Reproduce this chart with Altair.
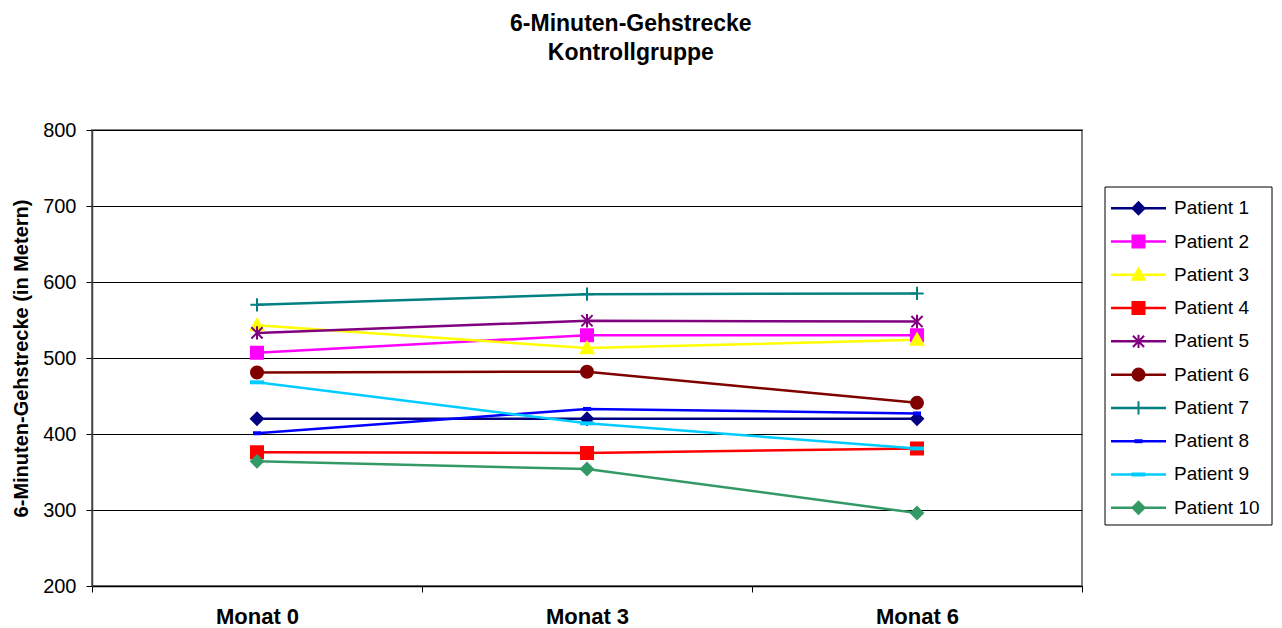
import altair as alt
import pandas as pd

months = ["Monat 0", "Monat 3", "Monat 6"]
patients = ["Patient 1", "Patient 2", "Patient 3", "Patient 4", "Patient 5",
            "Patient 6", "Patient 7", "Patient 8", "Patient 9", "Patient 10"]

p1 = [420, 420, 420]
p2 = [507, 530, 530]
p3 = [543, 513, 524]
p4 = [376, 375, 381]
p5 = [533, 549, 548]
p6 = [481, 482, 441]
p7 = [570, 584, 585]
p8 = [401, 433, 427]
p9 = [468, 414, 381]
p10 = [364, 354, 296]

colors = ["#000080", "#FF00FF", "#FFFF00", "#FF0000", "#800080",
          "#800000", "#008080", "#0000FF", "#00CCFF", "#339966"]

shapes = [
    "M0,-0.86L0.86,0L0,0.86L-0.86,0Z",                       # diamond
    "M-0.86,-0.86H0.86V0.86H-0.86Z",                          # square
    "M0,-0.9L0.9,0.72L-0.9,0.72Z",                            # triangle
    "M-0.86,-0.86H0.86V0.86H-0.86Z",                          # square
    "M0,-0.95V0.95M-0.8,-0.8L0.8,0.8M-0.8,0.8L0.8,-0.8",     # asterisk
    "M-0.86,0A0.86,0.86,0,1,1,0.86,0A0.86,0.86,0,1,1,-0.86,0Z",  # circle
    "M-0.95,0H0.95M0,-0.95V0.95",                             # plus
    "M-0.43,-0.14H0.43V0.14H-0.43Z",                          # short dash
    "M-0.86,-0.14H0.86V0.14H-0.86Z",                          # dash
    "M0,-0.86L0.86,0L0,0.86L-0.86,0Z",                       # diamond
]

series = [p1, p2, p3, p4, p5, p6, p7, p8, p9, p10]
rows = []
for name, vals in zip(patients, series):
    for m, v in zip(months, vals):
        rows.append({"Patient": name, "Monat": m, "Wert": v})
df = pd.DataFrame(rows)

color_scale = alt.Scale(domain=patients, range=colors)
shape_scale = alt.Scale(domain=patients, range=shapes)

FONT = "Liberation Sans"

base = alt.Chart(df).encode(
    x=alt.X("Monat:N", sort=months,
            scale=alt.Scale(type="band", paddingInner=0, paddingOuter=0),
            axis=alt.Axis(title=None, tickBand="extent", labelAngle=0,
                          labelFontWeight="bold", labelFontSize=22, labelFont=FONT,
                          labelColor="black", labelPadding=14, tickSize=6,
                          tickColor="black", domainColor="black", domainWidth=1.5,
                          grid=False)),
    y=alt.Y("Wert:Q",
            scale=alt.Scale(domain=[200, 800], nice=False, zero=False),
            axis=alt.Axis(title="6-Minuten-Gehstrecke (in Metern)",
                          values=[200, 300, 400, 500, 600, 700, 800],
                          titleFontSize=20, titleFontWeight="bold", titleFont=FONT,
                          titleColor="black", titlePadding=11,
                          labelFontSize=20, labelFont=FONT, labelColor="black",
                          labelPadding=10, tickSize=6, tickColor="black",
                          domainColor="#404040", domainWidth=1.5,
                          grid=True, gridColor="black", gridWidth=1)),
)

lines = base.mark_line(strokeWidth=2.5).encode(
    color=alt.Color("Patient:N", scale=color_scale, legend=None),
    order=alt.Order("Monat:N"),
)
points = base.mark_point(filled=True, strokeWidth=2, size=196, opacity=1).encode(
    color=alt.Color("Patient:N", scale=color_scale, legend=None),
    stroke=alt.Stroke("Patient:N", scale=color_scale, legend=None),
    shape=alt.Shape("Patient:N", scale=shape_scale, legend=None),
)

main = alt.layer(lines, points).properties(
    width=990, height=456,
    view=alt.ViewBackground(stroke="#808080", strokeWidth=2),
)

# Legend panel
leg_df = pd.DataFrame({"Patient": patients})
box_df = pd.DataFrame({"k": [0]})
leg_base = alt.Chart(leg_df).encode(
    y=alt.Y("Patient:N", sort=patients,
            scale=alt.Scale(type="band", paddingInner=0, paddingOuter=0,
                            range=[61.6, 394.4]),
            axis=None)
)
box = alt.Chart(box_df).mark_rect(fill="white", stroke="black", strokeWidth=1).encode(
    x=alt.value(0), x2=alt.value(167), y=alt.value(57), y2=alt.value(395)
)
leg_line = leg_base.mark_rule(strokeWidth=2.5).encode(
    x=alt.value(6), x2=alt.value(61),
    color=alt.Color("Patient:N", scale=color_scale, legend=None),
)
leg_pt = leg_base.mark_point(filled=True, strokeWidth=2, size=196, opacity=1).encode(
    x=alt.value(33.5),
    color=alt.Color("Patient:N", scale=color_scale, legend=None),
    stroke=alt.Stroke("Patient:N", scale=color_scale, legend=None),
    shape=alt.Shape("Patient:N", scale=shape_scale, legend=None),
)
leg_txt = leg_base.mark_text(align="left", baseline="middle", fontSize=19,
                             font=FONT, color="black").encode(
    x=alt.value(69), text="Patient:N"
)
legend = alt.layer(box, leg_line, leg_pt, leg_txt).properties(
    width=167, height=456,
    view=alt.ViewBackground(stroke="transparent"),
)

chart = alt.hconcat(main, legend, spacing=20).properties(
    title=alt.Title(["6-Minuten-Gehstrecke", "Kontrollgruppe"],
                    fontSize=23, fontWeight="bold", font=FONT, color="black",
                    lineHeight=29, anchor="middle", offset=54, dx=-11),
    padding={"left": 10, "top": 13, "right": 5, "bottom": 0},
    background="white",
)

chart.save("out.html", embed_options={"renderer": "svg", "actions": False})
